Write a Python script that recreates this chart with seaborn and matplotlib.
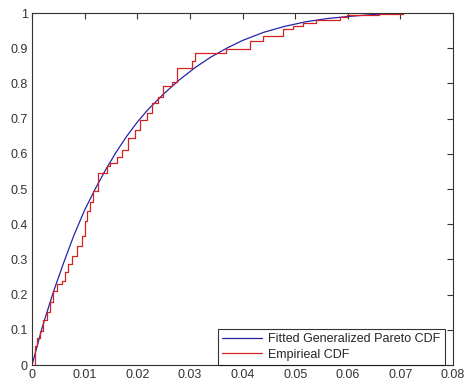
import numpy as np
import pandas as pd
import seaborn as sns
import matplotlib
matplotlib.use("Agg")
import matplotlib.pyplot as plt
from matplotlib.ticker import FuncFormatter

# fitted generalized Pareto CDF
fit_x = [0, .002, .004, .006, .008, .010, .012, .014, .016, .018, .020, .022,
         .025, .028, .031, .034, .037, .040, .044, .048, .052, .056, .060,
         .065, .071]
fit_y = [0, .11, .205, .29, .37, .44, .50, .555, .605, .65, .69, .725,
         .77, .81, .845, .875, .90, .922, .945, .962, .975, .984, .990,
         .996, 1.0]

# empirical CDF steps (x where the step starts, level after the step)
emp_x = [0, .0005, .001, .0015, .0021, .0028, .0034, .004, .0047, .0057,
         .0063, .0069, .0076, .0086, .0095, .0101, .0104, .011, .0116,
         .0125, .0142, .0148, .0161, .0171, .0182, .0196, .0205, .0218,
         .0228, .0239, .0249, .0266, .0276, .0304, .031, .0369, .0414,
         .0439, .0477, .0496, .0515, .054, .0585, .0599, .066, .0705]
emp_y = [0, .053, .076, .096, .127, .152, .18, .211, .231, .239,
         .265, .287, .31, .338, .366, .408, .437, .462, .493,
         .546, .564, .575, .592, .611, .645, .668, .696, .715,
         .744, .76, .794, .803, .845, .865, .887, .898, .921,
         .935, .955, .963, .972, .98, .988, .994, .997, 1.0]

sns.set_style("white")
plt.rcParams['font.family'] = ['Liberation Sans', 'DejaVu Sans']

fig = plt.figure(figsize=(4.66, 3.87), dpi=100)
ax = fig.add_axes([0.0687, 0.0568, 0.9034, 0.9096])

fit = pd.DataFrame({'x': fit_x, 'y': fit_y})
emp = pd.DataFrame({'x': emp_x, 'y': emp_y})

sns.lineplot(data=fit, x='x', y='y', ax=ax, color='#2424a8', lw=0.9,
             estimator=None, sort=False, label='Fitted Generalized Pareto CDF')
sns.lineplot(data=emp, x='x', y='y', ax=ax, color='#d42020', lw=0.9,
             estimator=None, sort=False, drawstyle='steps-post',
             label='Empirieal CDF')

ax.set_xlim(0, 0.08)
ax.set_ylim(0, 1)
ax.set_xticks(np.arange(0, 0.0801, 0.01))
ax.set_yticks(np.arange(0, 1.001, 0.1))
ax.xaxis.set_major_formatter(FuncFormatter(lambda v, p: '%g' % round(v, 3)))
ax.yaxis.set_major_formatter(FuncFormatter(lambda v, p: '%g' % round(v, 2)))
ax.set_xlabel('')
ax.set_ylabel('')
ax.tick_params(direction='in', length=4, width=0.8, top=True, right=True,
               labelsize=9, colors='#333333', pad=3)
for s in ax.spines.values():
    s.set_visible(True)
    s.set_color('#333333')
    s.set_linewidth(0.8)

leg = ax.legend(loc='lower right', bbox_to_anchor=(0.981, 0.0),
                fancybox=False, frameon=True, fontsize=9, handlelength=3.2,
                borderaxespad=0, borderpad=0.35, labelspacing=0.3,
                handletextpad=0.5)
leg.get_frame().set_edgecolor('black')
leg.get_frame().set_linewidth(0.8)

fig.savefig('out.png', dpi=100)
